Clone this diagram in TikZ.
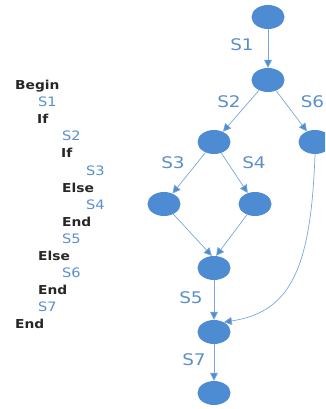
\documentclass[tikz,border=0pt]{standalone}
\usepackage{fontspec}
\setmainfont{DejaVu Sans}
\newfontfamily\biglab[FakeStretch=1.15]{DejaVu Sans}
\newfontfamily\codefont[FakeStretch=1.12]{DejaVu Sans}
\usetikzlibrary{shapes.geometric,arrows.meta}
\definecolor{nodefill}{HTML}{4D8CD2}
\definecolor{labblue}{HTML}{5A8FCC}
\definecolor{edgeblue}{HTML}{7AA7DB}
\tikzset{
  vtx/.style={ellipse,fill=nodefill,draw=none,minimum width=33pt,minimum height=24pt,inner sep=0pt},
  edge/.style={draw=edgeblue,line width=0.7pt,-{Triangle[length=8pt,width=8pt,fill=nodefill]}},
  elab/.style={text=labblue,font=\biglab\fontsize{16}{18}\selectfont,inner sep=0pt},
  kw/.style={anchor=base west,inner sep=0pt,text=black!85,font=\codefont\bfseries\fontsize{12.3}{14}\selectfont},
  st/.style={anchor=base west,inner sep=0pt,text=labblue,font=\codefont\fontsize{13}{15}\selectfont}
}
\begin{document}
\begin{tikzpicture}[x=1pt,y=-1pt]
\useasboundingbox (0,0) rectangle (325,409);
\clip (0,0) rectangle (325,409);
% nodes
\node[vtx] (n1) at (268,17) {};
\node[vtx] (n2) at (268,80) {};
\node[vtx] (n3) at (214,142) {};
\node[vtx] (n6) at (315,142) {};
\node[vtx] (n4) at (164,204) {};
\node[vtx] (n5) at (255,204) {};
\node[vtx] (n7) at (214,268) {};
\node[vtx] (n8) at (214,332) {};
\node[vtx] (n9) at (214,393) {};
% edges
\draw[edge] (n1) -- (n2);
\draw[edge] (n2) -- (n3);
\draw[edge] (n2) -- (n6);
\draw[edge] (n3) -- (n4);
\draw[edge] (n3) -- (n5);
\draw[edge] (n4) -- (n7.100);
\draw[edge] (n5) -- (n7.80);
\draw[edge] (n7) -- (n8);
\draw[edge] (n6.south) .. controls (311,270) and (290,312) .. (n8.45);
\draw[edge] (n8) -- (n9);
% edge labels
\node[elab] (l1) at (242,45) {S1};
\node[elab] (l2) at (229,102) {S2};
\node[elab] (l6) at (312.5,102) {S6};
\node[elab] (l3) at (173,163) {S3};
\node[elab] (l4) at (254,163) {S4};
\node[elab] (l5) at (191,298) {S5};
\node[elab] (l7) at (194,360) {S7};
% pseudo code
\node[kw] (c0) at (15,89.5) {Begin};
\node[st] (c1) at (38,106.6) {S1};
\node[kw] (c2) at (37,123.7) {If};
\node[st] (c3) at (62,140.8) {S2};
\node[kw] (c4) at (61,157.9) {If};
\node[st] (c5) at (86,175.0) {S3};
\node[kw] (c6) at (62,192.1) {Else};
\node[st] (c7) at (86,209.2) {S4};
\node[kw] (c8) at (62,226.3) {End};
\node[st] (c9) at (62,243.4) {S5};
\node[kw] (c10) at (38,260.5) {Else};
\node[st] (c11) at (62,277.6) {S6};
\node[kw] (c12) at (38,294.7) {End};
\node[st] (c13) at (38,311.8) {S7};
\node[kw] (c14) at (15,328.9) {End};
\end{tikzpicture}
\end{document}
